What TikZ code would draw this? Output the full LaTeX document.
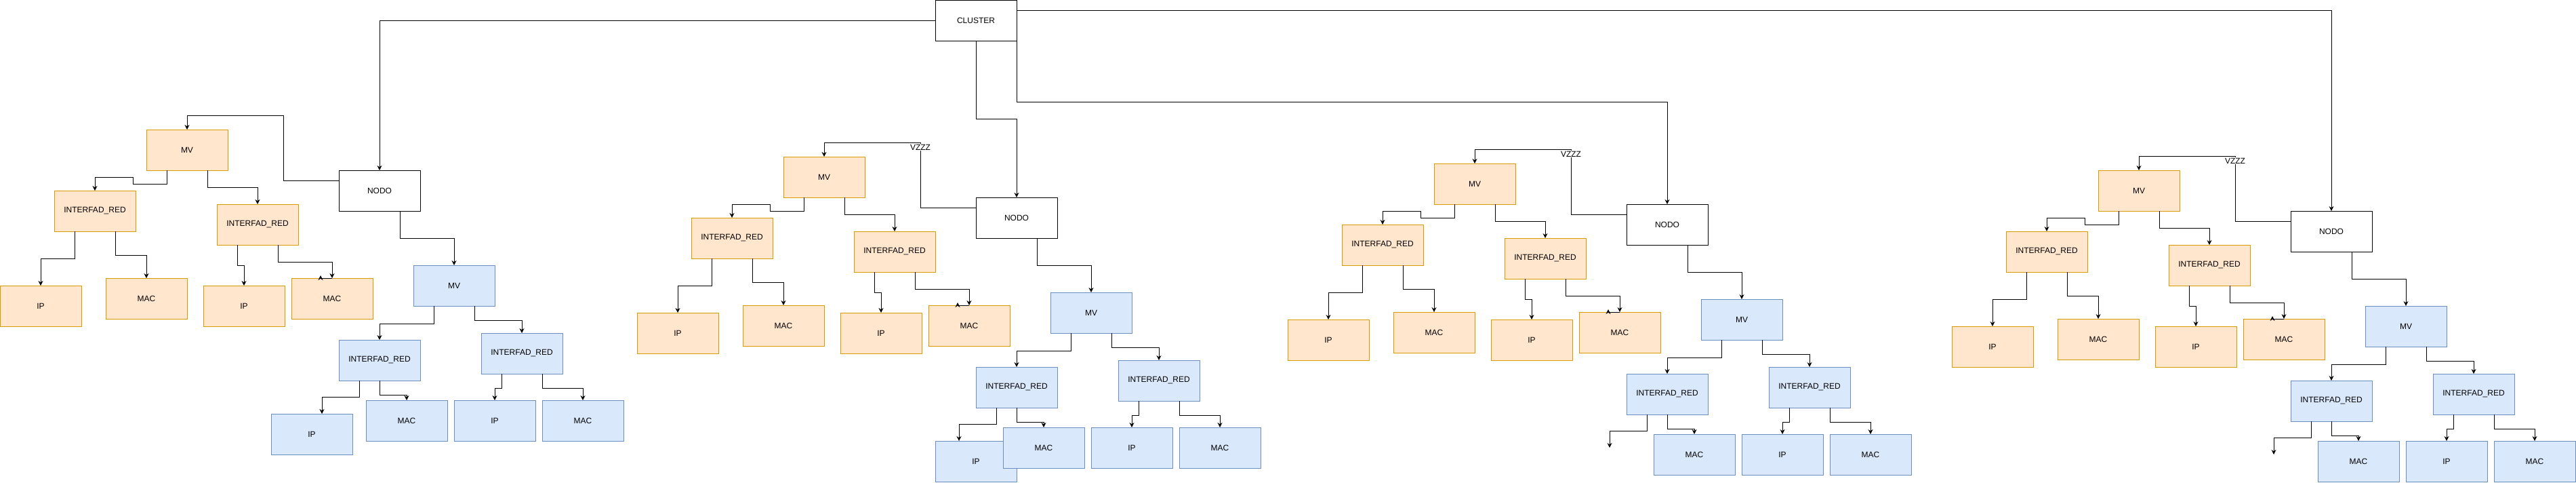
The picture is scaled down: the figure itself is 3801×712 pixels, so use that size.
\documentclass[tikz,border=0pt]{standalone}
\usepackage{fontspec}
\setmainfont{Liberation Sans}
\usetikzlibrary{arrows.meta}
\definecolor{orfill}{HTML}{FFE6CC}
\definecolor{ordraw}{HTML}{D79B00}
\definecolor{blfill}{HTML}{DAE8FC}
\definecolor{bldraw}{HTML}{6C8EBF}
\begin{document}
\begin{tikzpicture}[x=1pt, y=-1pt, line width=1pt]

\tikzstyle{box}=[rectangle, draw, fill=white, minimum width=120pt, minimum height=60pt, inner sep=0pt, outer sep=0pt, font=\fontsize{12}{14}\selectfont]
\tikzstyle{boxo}=[box, fill=orfill, draw=ordraw]
\tikzstyle{boxb}=[box, fill=blfill, draw=bldraw]
\tikzstyle{arrow}=[-{Stealth[length=7pt,width=7pt]}]
\tikzstyle{lbl}=[fill=white, inner sep=1pt, font=\fontsize{12}{14}\selectfont]

\useasboundingbox (0,0) rectangle (3801,712);

\node (cl) [box] at (1440,30) {CLUSTER};

\node (n1) [box] at (560,281) {NODO};
\node (mv1) [boxo] at (276,221) {MV};
\node (ir1a) [boxo] at (140,311) {INTERFAD\_RED};
\node (ir1b) [boxo] at (380,331) {INTERFAD\_RED};
\node (ip1a) [boxo] at (60,451) {IP};
\node (mac1a) [boxo] at (216,440) {MAC};
\node (ip1b) [boxo] at (360,451) {IP};
\node (mac1b) [boxo] at (490,440) {MAC};
\node (mvb1) [boxb] at (670,421) {MV};
\node (irb1a) [boxb] at (560,531) {INTERFAD\_RED};
\node (irb1b) [boxb] at (770,521) {INTERFAD\_RED};
\node (ipb1a) [boxb] at (460,640) {IP};
\node (macb1a) [boxb] at (600,620) {MAC};
\node (ipb1b) [boxb] at (730,620) {IP};
\node (macb1b) [boxb] at (860,620) {MAC};

\node (n2) [box] at (1500,321) {NODO};
\node (mv2) [boxo] at (1216,261) {MV};
\node (ir2a) [boxo] at (1080,351) {INTERFAD\_RED};
\node (ir2b) [boxo] at (1320,371) {INTERFAD\_RED};
\node (ip2a) [boxo] at (1000,491) {IP};
\node (mac2a) [boxo] at (1156,480) {MAC};
\node (ip2b) [boxo] at (1300,491) {IP};
\node (mac2b) [boxo] at (1430,480) {MAC};
\node (mvb2) [boxb] at (1610,461) {MV};
\node (irb2a) [boxb] at (1500,571) {INTERFAD\_RED};
\node (irb2b) [boxb] at (1710,561) {INTERFAD\_RED};
\node (ipb2a) [boxb] at (1440,680) {IP};
\node (macb2a) [boxb] at (1540,660) {MAC};
\node (ipb2b) [boxb] at (1670,660) {IP};
\node (macb2b) [boxb] at (1800,660) {MAC};

\node (n3) [box] at (2460,331) {NODO};
\node (mv3) [boxo] at (2176,271) {MV};
\node (ir3a) [boxo] at (2040,361) {INTERFAD\_RED};
\node (ir3b) [boxo] at (2280,381) {INTERFAD\_RED};
\node (ip3a) [boxo] at (1960,501) {IP};
\node (mac3a) [boxo] at (2116,490) {MAC};
\node (ip3b) [boxo] at (2260,501) {IP};
\node (mac3b) [boxo] at (2390,490) {MAC};
\node (mvb3) [boxb] at (2570,471) {MV};
\node (irb3a) [boxb] at (2460,581) {INTERFAD\_RED};
\node (irb3b) [boxb] at (2670,571) {INTERFAD\_RED};
\coordinate (end3) at (2375,660);
\node (macb3a) [boxb] at (2500,670) {MAC};
\node (ipb3b) [boxb] at (2630,670) {IP};
\node (macb3b) [boxb] at (2760,670) {MAC};

\node (n4) [box] at (3440,341) {NODO};
\node (mv4) [boxo] at (3156,281) {MV};
\node (ir4a) [boxo] at (3020,371) {INTERFAD\_RED};
\node (ir4b) [boxo] at (3260,391) {INTERFAD\_RED};
\node (ip4a) [boxo] at (2940,511) {IP};
\node (mac4a) [boxo] at (3096,500) {MAC};
\node (ip4b) [boxo] at (3240,511) {IP};
\node (mac4b) [boxo] at (3370,500) {MAC};
\node (mvb4) [boxb] at (3550,481) {MV};
\node (irb4a) [boxb] at (3440,591) {INTERFAD\_RED};
\node (irb4b) [boxb] at (3650,581) {INTERFAD\_RED};
\coordinate (end4) at (3355,670);
\node (macb4a) [boxb] at (3480,680) {MAC};
\node (ipb4b) [boxb] at (3610,680) {IP};
\node (macb4b) [boxb] at (3740,680) {MAC};

\draw [arrow] (cl.west) -| (n1);
\draw [arrow] (cl.south) -- ++(0,115) -| (n2);
\draw [arrow] (cl.south east) -- ++(0,90) -| (n3);
\draw [arrow] ([yshift=-15pt]cl.north east) -| (n4);

\draw [arrow] ([yshift=-15pt]n1.north west) -- ++(-82,0) -- ++(0,-95.5) -| (mv1);
\draw [arrow] ([xshift=30pt]n1.south) -- ++(0,40.5) -| (mvb1);
\draw [arrow] ([xshift=-30pt]mv1.south) -- ++(0,20) -- ++(-50,0) -- ++(0,-10) -| (ir1a);
\draw [arrow] ([xshift=30pt]mv1.south) -- ++(0,25) -| (ir1b);
\draw [arrow] ([xshift=-30pt]ir1a.south) -- ++(0,40) -| (ip1a);
\draw [arrow] ([xshift=30pt]ir1a.south) -- ++(0,35.5) -| (mac1a);
\draw [arrow] ([xshift=-30pt]ir1b.south) -- ++(0,30.5) -| (ip1b);
\draw [arrow] ([xshift=30pt]ir1b.south) -- ++(0,25.5) -| (mac1b);
\draw [arrow] (mac1b.north) -- ++(-17,0) -- ++(0,-4);
\draw [arrow] ([xshift=-30pt]mvb1.south) -- ++(0,26) -| (irb1a);
\draw [arrow] ([xshift=30pt]mvb1.south) -- ++(0,21) -| (irb1b);
\draw [arrow] ([xshift=-30pt]irb1a.south) -- ++(0,24.5) -| ([xshift=15pt]ipb1a.north);
\draw [arrow] (irb1a.south) -- ++(0,21.5) -| (macb1a);
\draw [arrow] ([xshift=-30pt]irb1b.south) -- ++(0,21) -| (ipb1b);
\draw [arrow] ([xshift=30pt]irb1b.south) -- ++(0,21) -| (macb1b);

\draw [arrow] ([yshift=-15pt]n2.north west) -- ++(-82,0) -- node[lbl, pos=0.93] {VZZZ} ++(0,-95.5) -| (mv2);
\draw [arrow] ([xshift=30pt]n2.south) -- ++(0,40.5) -| (mvb2);
\draw [arrow] ([xshift=-30pt]mv2.south) -- ++(0,20) -- ++(-50,0) -- ++(0,-10) -| (ir2a);
\draw [arrow] ([xshift=30pt]mv2.south) -- ++(0,25) -| (ir2b);
\draw [arrow] ([xshift=-30pt]ir2a.south) -- ++(0,40) -| (ip2a);
\draw [arrow] ([xshift=30pt]ir2a.south) -- ++(0,35.5) -| (mac2a);
\draw [arrow] ([xshift=-30pt]ir2b.south) -- ++(0,30.5) -| (ip2b);
\draw [arrow] ([xshift=30pt]ir2b.south) -- ++(0,25.5) -| (mac2b);
\draw [arrow] (mac2b.north) -- ++(-17,0) -- ++(0,-4);
\draw [arrow] ([xshift=-30pt]mvb2.south) -- ++(0,26) -| (irb2a);
\draw [arrow] ([xshift=30pt]mvb2.south) -- ++(0,21) -| (irb2b);
\draw [arrow] ([xshift=-30pt]irb2a.south) -- ++(0,24.5) -| ([xshift=-25pt]ipb2a.north);
\draw [arrow] (irb2a.south) -- ++(0,21.5) -| (macb2a);
\draw [arrow] ([xshift=-30pt]irb2b.south) -- ++(0,21) -| (ipb2b);
\draw [arrow] ([xshift=30pt]irb2b.south) -- ++(0,21) -| (macb2b);

\draw [arrow] ([yshift=-15pt]n3.north west) -- ++(-82,0) -- node[lbl, pos=0.93] {VZZZ} ++(0,-95.5) -| (mv3);
\draw [arrow] ([xshift=30pt]n3.south) -- ++(0,40.5) -| (mvb3);
\draw [arrow] ([xshift=-30pt]mv3.south) -- ++(0,20) -- ++(-50,0) -- ++(0,-10) -| (ir3a);
\draw [arrow] ([xshift=30pt]mv3.south) -- ++(0,25) -| (ir3b);
\draw [arrow] ([xshift=-30pt]ir3a.south) -- ++(0,40) -| (ip3a);
\draw [arrow] ([xshift=30pt]ir3a.south) -- ++(0,35.5) -| (mac3a);
\draw [arrow] ([xshift=-30pt]ir3b.south) -- ++(0,30.5) -| (ip3b);
\draw [arrow] ([xshift=30pt]ir3b.south) -- ++(0,25.5) -| (mac3b);
\draw [arrow] (mac3b.north) -- ++(-17,0) -- ++(0,-4);
\draw [arrow] ([xshift=-30pt]mvb3.south) -- ++(0,26) -| (irb3a);
\draw [arrow] ([xshift=30pt]mvb3.south) -- ++(0,21) -| (irb3b);
\draw [arrow] ([xshift=-30pt]irb3a.south) -- ++(0,24.5) -| (end3);
\draw [arrow] (irb3a.south) -- ++(0,21.5) -| (macb3a);
\draw [arrow] ([xshift=-30pt]irb3b.south) -- ++(0,21) -| (ipb3b);
\draw [arrow] ([xshift=30pt]irb3b.south) -- ++(0,21) -| (macb3b);

\draw [arrow] ([yshift=-15pt]n4.north west) -- ++(-82,0) -- node[lbl, pos=0.93] {VZZZ} ++(0,-95.5) -| (mv4);
\draw [arrow] ([xshift=30pt]n4.south) -- ++(0,40.5) -| (mvb4);
\draw [arrow] ([xshift=-30pt]mv4.south) -- ++(0,20) -- ++(-50,0) -- ++(0,-10) -| (ir4a);
\draw [arrow] ([xshift=30pt]mv4.south) -- ++(0,25) -| (ir4b);
\draw [arrow] ([xshift=-30pt]ir4a.south) -- ++(0,40) -| (ip4a);
\draw [arrow] ([xshift=30pt]ir4a.south) -- ++(0,35.5) -| (mac4a);
\draw [arrow] ([xshift=-30pt]ir4b.south) -- ++(0,30.5) -| (ip4b);
\draw [arrow] ([xshift=30pt]ir4b.south) -- ++(0,25.5) -| (mac4b);
\draw [arrow] (mac4b.north) -- ++(-17,0) -- ++(0,-4);
\draw [arrow] ([xshift=-30pt]mvb4.south) -- ++(0,26) -| (irb4a);
\draw [arrow] ([xshift=30pt]mvb4.south) -- ++(0,21) -| (irb4b);
\draw [arrow] ([xshift=-30pt]irb4a.south) -- ++(0,24.5) -| (end4);
\draw [arrow] (irb4a.south) -- ++(0,21.5) -| (macb4a);
\draw [arrow] ([xshift=-30pt]irb4b.south) -- ++(0,21) -| (ipb4b);
\draw [arrow] ([xshift=30pt]irb4b.south) -- ++(0,21) -| (macb4b);

\end{tikzpicture}
\end{document}
